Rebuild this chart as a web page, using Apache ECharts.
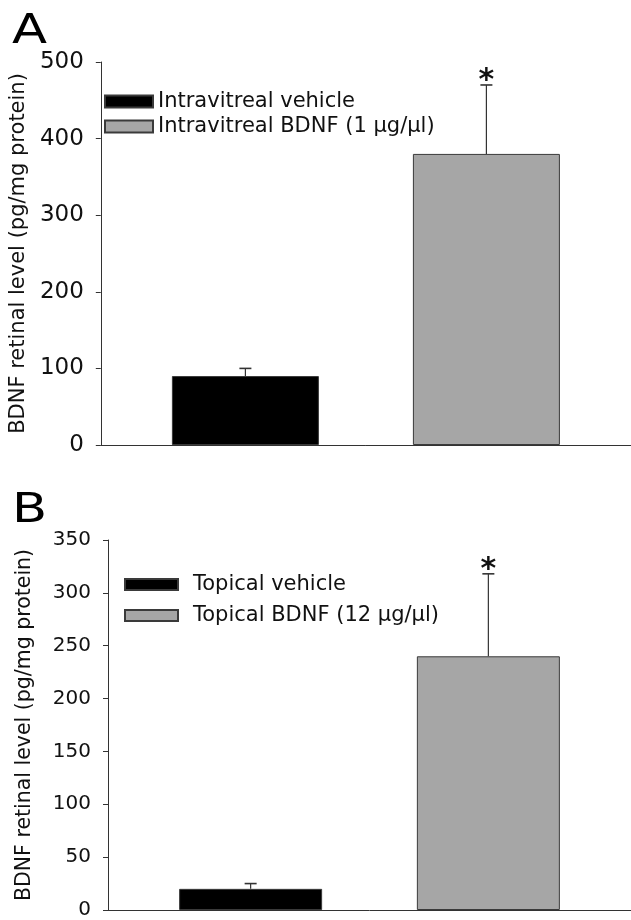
<!DOCTYPE html>
<html>
<head>
<meta charset="UTF-8">
<title>BDNF retinal level</title>
<script src="https://cdn.jsdelivr.net/npm/echarts/dist/echarts.min.js"></script>
<style>
	html, body { margin: 0; padding: 0; background: #fff; }
	#main { width: 631px; height: 920px; }
</style>
</head>
<body>
	<div id="main"></div>
<script type="text/javascript">
	// panel A - intravitreal
	var groupsA = ['Intravitreal vehicle', 'Intravitreal BDNF (1 \u03bcg/\u03bcl)'];
	var meansA = [90, 380];
	var errA = [10, 90];
	var sigA = [0, 1];
	var maxA = 500, stepA = 100;

	// panel B - topical
	var groupsB = ['Topical vehicle', 'Topical BDNF (12 \u03bcg/\u03bcl)'];
	var meansB = [20, 240];
	var errB = [5, 78];
	var sigB = [0, 1];
	var maxB = 350, stepB = 50;

	var yName = 'BDNF retinal level (pg/mg protein)';
	var barColors = ['#000000', '#a6a6a6'];
	var FONT = 'DejaVu Sans';

	function errRender(params, api) {
		var x = api.value(0), m = api.value(1), e = api.value(2), s = api.value(3);
		var base = api.coord([x, m]);
		var top = api.coord([x, m + e]);
		var half = 6;
		var children = [
			{ type: 'line', shape: { x1: base[0], y1: base[1], x2: top[0], y2: top[1] },
				style: { stroke: '#333', lineWidth: 1.2 } },
			{ type: 'line', shape: { x1: top[0] - half, y1: top[1], x2: top[0] + half, y2: top[1] },
				style: { stroke: '#333', lineWidth: 1.6 } }
		];
		if (s) {
			children.push({ type: 'text', x: top[0], y: top[1] + 11,
				style: { text: '*', fontSize: 30, fontWeight: 'bold', fontFamily: FONT,
					fill: '#111', align: 'center', verticalAlign: 'bottom' } });
		}
		return { type: 'group', children: children };
	}

	function barSeries(groups, means, idx, width) {
		var out = [];
		for (var i = 0; i < groups.length; i++) {
			out.push({
				name: groups[i],
				type: 'bar',
				xAxisIndex: idx,
				yAxisIndex: idx,
				barWidth: width,
				barGap: '-100%',
				data: [[i, means[i]]],
				itemStyle: { color: barColors[i], borderColor: '#3a3a3a', borderWidth: 1 },
				emphasis: { disabled: true },
				z: 2
			});
		}
		return out;
	}

	function errSeries(means, errs, sig, idx) {
		var data = [];
		for (var i = 0; i < means.length; i++) {
			data.push([i, means[i], errs[i], sig[i]]);
		}
		return {
			type: 'custom',
			xAxisIndex: idx,
			yAxisIndex: idx,
			renderItem: errRender,
			data: data,
			z: 3
		};
	}

	function yAxis(idx, max, step, fs, gap, nameStyle) {
		return {
			type: 'value',
			gridIndex: idx,
			min: 0,
			max: max,
			interval: step,
			name: yName,
			nameLocation: 'middle',
			nameGap: gap,
			nameTextStyle: nameStyle,
			axisLine: { show: true, onZero: false, lineStyle: { color: '#333', width: 1 } },
			axisTick: { show: true, inside: false, length: 5, lineStyle: { color: '#333' } },
			axisLabel: { fontSize: fs, fontFamily: FONT, color: '#111', margin: 17 },
			splitLine: { show: false }
		};
	}

	function xAxis(idx) {
		return {
			type: 'value',
			gridIndex: idx,
			min: -0.6,
			max: 1.6,
			axisLine: { show: true, onZero: false, lineStyle: { color: '#333', width: 1 } },
			axisTick: { show: false },
			axisLabel: { show: false },
			splitLine: { show: false }
		};
	}

	var myChart = echarts.init(document.getElementById('main'), null, { renderer: 'canvas' });
	var option = {
		backgroundColor: '#fff',
		animation: false,
		graphic: [
			{ type: 'text', left: 12, top: 12, scaleX: 1.25,
				style: { text: 'A', fontSize: 41, fontFamily: FONT, fill: '#000' } },
			{ type: 'text', left: 12, top: 491, scaleX: 1.25,
				style: { text: 'B', fontSize: 41, fontFamily: FONT, fill: '#000' } }
		],
		grid: [
			{ left: 97, right: 0, top: 62, height: 383 },
			{ left: 108, right: 0, top: 540, height: 371 }
		],
		legend: [
			{
				data: groupsA, orient: 'vertical', left: 104, top: 91, padding: 0,
				icon: 'rect', itemWidth: 48, itemHeight: 12, itemGap: 4,
				selectedMode: false,
				textStyle: { fontSize: 21, fontFamily: FONT, color: '#111' }
			},
			{
				data: groupsB, orient: 'vertical', left: 124, top: 574, padding: 0,
				icon: 'rect', itemWidth: 53, itemHeight: 11, itemGap: 10,
				selectedMode: false,
				textStyle: { fontSize: 21, fontFamily: FONT, color: '#111', padding: [0, 0, 0, 10] }
			}
		],
		xAxis: [xAxis(0), xAxis(1)],
		yAxis: [
			yAxis(0, maxA, stepA, 23, 58, { fontSize: 21, fontFamily: FONT, color: '#111' }),
			yAxis(1, maxB, stepB, 20, 73, { fontSize: 20.5, fontFamily: FONT, color: '#111' })
		],
		series: []
			.concat(barSeries(groupsA, meansA, 0, 147))
			.concat([errSeries(meansA, errA, sigA, 0)])
			.concat(barSeries(groupsB, meansB, 1, 143))
			.concat([errSeries(meansB, errB, sigB, 1)])
	};
	myChart.setOption(option);
</script>
</body>
</html>
